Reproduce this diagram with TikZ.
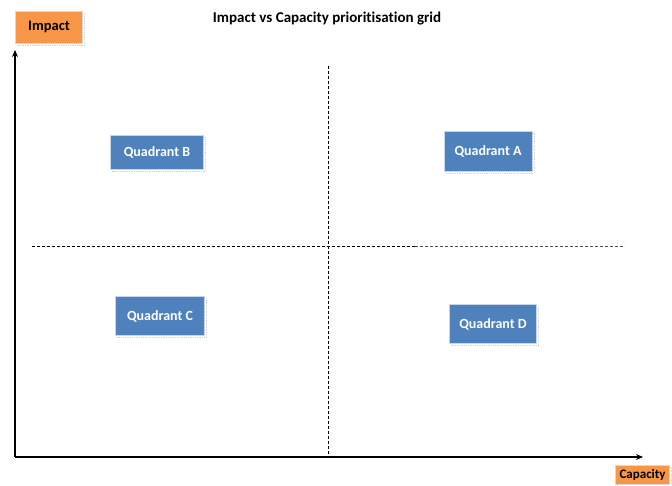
\documentclass[tikz,border=0pt]{standalone}
\usepackage{fontspec}
\setmainfont{Carlito}[Ligatures=NoCommon]
\usepackage{xcolor}
\usetikzlibrary{arrows.meta, shadows}
\definecolor{quadblue}{HTML}{4F81BD}
\definecolor{quadrim}{HTML}{C6D5EA}
\definecolor{axisorange}{HTML}{F79646}

\begin{document}
\begin{tikzpicture}[
  x=1pt, y=-1pt,
  quad/.style={
    rectangle, draw=quadrim, fill=quadblue, line width=0.8pt,
    text=white, font=\fontsize{14}{16}\selectfont\bfseries,
    drop shadow={shadow xshift=2pt, shadow yshift=-2pt,
      fill=none, draw=gray!70, densely dotted},
    inner sep=0pt
  },
  axislabel/.style={
    rectangle, draw=white!85!black, fill=axisorange, line width=0.8pt,
    font=\fontsize{14.5}{17}\selectfont\bfseries,
    drop shadow={shadow xshift=2pt, shadow yshift=-2pt,
      fill=none, draw=gray!70, densely dotted},
    inner sep=0pt
  },
  axis/.style={-{Stealth[length=7pt, width=6pt]}, line width=1.2pt},
  divider/.style={densely dashed, line width=0.9pt}
]
\useasboundingbox (0,0) rectangle (672,486);

% Title
\node[font=\fontsize{15}{18}\selectfont\bfseries] (title) at (327,19)
  {Impact vs Capacity prioritisation grid};

% Axes
\coordinate (origin) at (15,457);
\coordinate (ytop) at (15,50);
\coordinate (xend) at (643,457);
\draw[axis] (origin) -- (ytop);
\draw[axis] (origin) -- (xend);

% Axis labels
\node[axislabel, minimum width=67pt, minimum height=32pt] (impactlbl) at (49,27) {Impact};
\node[axislabel, font=\fontsize{13}{15}\selectfont\bfseries,
      minimum width=54pt, minimum height=19pt, anchor=east] (capacitylbl) at (670,475) {Capacity};

% Dividers
\coordinate (vtop) at (328,66);
\coordinate (vbot) at (328,458);
\coordinate (hleft) at (32,246);
\coordinate (hmid) at (415,246);
\coordinate (hright) at (625,246);
\draw[divider] (vtop) -- (vbot);
\draw[divider] (hleft) -- (hmid);
\draw[divider, line width=0.6pt, black!70] (hmid) -- (hright);

% Quadrants
\node[quad, minimum width=88pt, minimum height=40pt] (quadA) at (488,151) {Quadrant A};
\node[quad, minimum width=93pt, minimum height=34pt] (quadB) at (157,152) {Quadrant B};
\node[quad, minimum width=89pt, minimum height=39pt] (quadC) at (160,316) {Quadrant C};
\node[quad, minimum width=87pt, minimum height=39pt] (quadD) at (493,324) {Quadrant D};

\end{tikzpicture}
\end{document}
